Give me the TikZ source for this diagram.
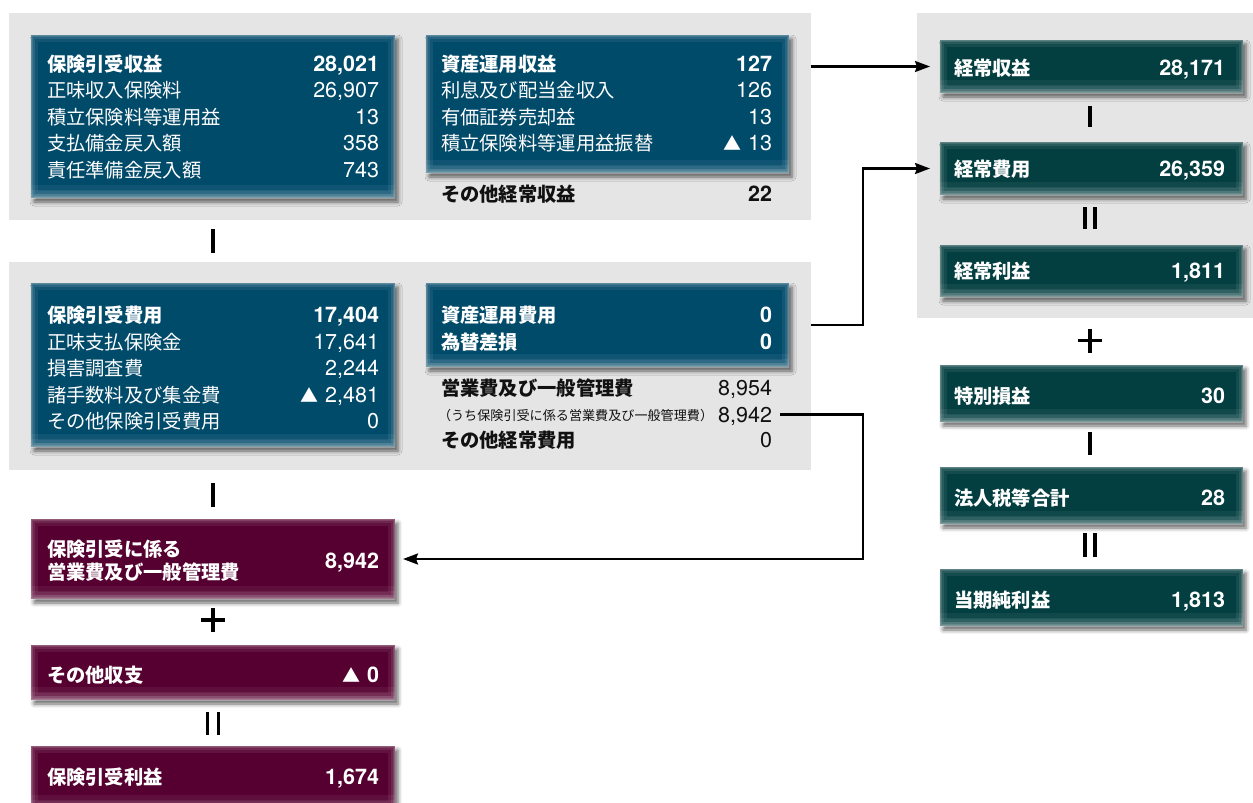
\documentclass[tikz,border=0pt]{standalone}
\usepackage{fontspec}
\setmainfont{TeX Gyre Heros}
\newfontfamily\cjk{Noto Sans CJK JP}
\usetikzlibrary{shadows.blur,arrows.meta,calc}
\definecolor{panelgray}{HTML}{E4E5E4}
\definecolor{bblue}{HTML}{004A6A}
\definecolor{bgreen}{HTML}{033E40}
\definecolor{bpurple}{HTML}{550030}
\definecolor{ink}{HTML}{111111}
\newcommand{\tri}{{\cjk\fontsize{18}{18}\selectfont ▲}\hspace{7pt}}
\tikzset{
  panel/.style={fill=panelgray, anchor=north west, inner sep=0pt, outer sep=0pt},
  card/.style={fill=#1, anchor=north west, inner sep=0pt, outer sep=0pt,
    blur shadow={shadow xshift=3pt, shadow yshift=-4pt, shadow blur radius=4pt, shadow opacity=60},
    path picture={
      \draw[white,opacity=0.07,line width=14pt] (path picture bounding box.south west) rectangle (path picture bounding box.north east);
      \draw[white,opacity=0.09,line width=8pt] (path picture bounding box.south west) rectangle (path picture bounding box.north east);
      \draw[white,opacity=0.12,line width=4pt] (path picture bounding box.south west) rectangle (path picture bounding box.north east);
      \draw[white,opacity=0.14,line width=1.5pt] (path picture bounding box.south west) rectangle (path picture bounding box.north east);
      \fill[white,opacity=0.06] (path picture bounding box.south west) rectangle ([yshift=13pt]path picture bounding box.south east);
      \fill[white,opacity=0.07] (path picture bounding box.south west) rectangle ([yshift=8pt]path picture bounding box.south east);
      \fill[white,opacity=0.08] (path picture bounding box.south west) rectangle ([yshift=4pt]path picture bounding box.south east);
    }},
  lab/.style={anchor=base west, inner sep=0pt, outer sep=0pt, text=white, font=\cjk\fontsize{19.3}{23.5}\selectfont},
  labb/.style={lab, font=\cjk\bfseries\fontsize{19.3}{23.5}\selectfont},
  num/.style={anchor=base east, inner sep=0pt, outer sep=0pt, text=white, font=\fontsize{21.5}{23}\selectfont},
  numb/.style={num, font=\bfseries\fontsize{21.5}{23}\selectfont},
  dark/.style={text=ink},
  small/.style={anchor=base west, inner sep=0pt, outer sep=0pt, text=ink, font=\cjk\fontsize{13.1}{14}\selectfont},
  opline/.style={line width=3.2pt, draw=black},
  conn/.style={line width=2.3pt, draw=black, -{Stealth[length=15pt,width=11pt,inset=2pt]}},
}
\begin{document}
\begin{tikzpicture}[x=1pt,y=-1pt]
\useasboundingbox (0,0) rectangle (1253,803);
% panels
\node[panel, minimum width=802pt, minimum height=207pt] (panelA) at (9,13) {};
\node[panel, minimum width=802pt, minimum height=208pt] (panelB) at (9,262) {};
\node[panel, minimum width=336pt, minimum height=305pt] (panelC) at (917,13) {};
% blue cards
\node[card=bblue, minimum width=364pt, minimum height=163pt] (bA1) at (31,35) {};
\node[card=bblue, minimum width=363pt, minimum height=138pt] (bA2) at (426,35) {};
\node[card=bblue, minimum width=364pt, minimum height=164pt] (bB1) at (31,283) {};
\node[card=bblue, minimum width=363pt, minimum height=84pt] (bB2) at (426,283) {};
% purple cards
\node[card=bpurple, minimum width=364pt, minimum height=80pt] (p1) at (31,519) {};
\node[card=bpurple, minimum width=364pt, minimum height=55pt] (p2) at (31,645) {};
\node[card=bpurple, minimum width=364pt, minimum height=62pt] (p3) at (31,746) {};
% green cards
\node[card=bgreen, minimum width=303pt, minimum height=53pt] (g1) at (940,40) {};
\node[card=bgreen, minimum width=303pt, minimum height=53pt] (g2) at (940,142) {};
\node[card=bgreen, minimum width=303pt, minimum height=52pt] (g3) at (940,245) {};
\node[card=bgreen, minimum width=303pt, minimum height=57pt] (g4) at (940,365) {};
\node[card=bgreen, minimum width=303pt, minimum height=57pt] (g5) at (940,467) {};
\node[card=bgreen, minimum width=303pt, minimum height=57pt] (g6) at (940,569) {};

% top-left card text
\node[labb] (a1l) at (47,71) {保険引受収益};
\node[numb] (a1n) at (379,71) {28,021};
\node[lab] (a2l) at (47,97.5) {正味収入保険料};
\node[num] (a2n) at (379,97.5) {26,907};
\node[lab] (a3l) at (47,124.1) {積立保険料等運用益};
\node[num] (a3n) at (379,124.1) {13};
\node[lab] (a4l) at (47,150.7) {支払備金戻入額};
\node[num] (a4n) at (379,150.7) {358};
\node[lab] (a5l) at (47,177.3) {責任準備金戻入額};
\node[num] (a5n) at (379,177.3) {743};
% top-right card text
\node[labb] (b1l) at (441,71) {資産運用収益};
\node[numb] (b1n) at (772,71) {127};
\node[lab] (b2l) at (441,97.5) {利息及び配当金収入};
\node[num] (b2n) at (772,97.5) {126};
\node[lab] (b3l) at (441,124.1) {有価証券売却益};
\node[num] (b3n) at (772,124.1) {13};
\node[lab] (b4l) at (441,150.7) {積立保険料等運用益振替};
\node[num] (b4n) at (772,150.7) {\tri 13};
\node[labb,dark] (b5l) at (441,201) {その他経常収益};
\node[numb,dark] (b5n) at (772,201) {22};

% middle-left card
\node[labb] (c1l) at (47,322.5) {保険引受費用};
\node[numb] (c1n) at (379,322.5) {17,404};
\node[lab] (c2l) at (47,349) {正味支払保険金};
\node[num] (c2n) at (379,349) {17,641};
\node[lab] (c3l) at (47,375.5) {損害調査費};
\node[num] (c3n) at (379,375.5) {2,244};
\node[lab] (c4l) at (47,402) {諸手数料及び集金費};
\node[num] (c4n) at (379,402) {\tri 2,481};
\node[lab] (c5l) at (47,428.5) {その他保険引受費用};
\node[num] (c5n) at (379,428.5) {0};
% middle-right card
\node[labb] (d1l) at (441,322.5) {資産運用費用};
\node[numb] (d1n) at (772,322.5) {0};
\node[labb] (d2l) at (441,349) {為替差損};
\node[numb] (d2n) at (772,349) {0};
\node[labb,dark] (d3l) at (441,395.5) {営業費及び一般管理費};
\node[num,dark] (d3n) at (772,395.5) {8,954};
\node[small] (d4l) at (438,420) {（うち保険引受に係る営業費及び一般管理費）};
\node[num,dark] (d4n) at (772,422.5) {8,942};
\node[labb,dark] (d5l) at (441,447.5) {その他経常費用};
\node[num,dark] (d5n) at (772,447.5) {0};

% purple
\node[labb, anchor=west, align=left] (e1l) at (47,560.75) {保険引受に係る\\営業費及び一般管理費};
\node[numb] (e1n) at (379,568) {8,942};
\node[labb] (e2l) at (47,682.5) {その他収支};
\node[numb] (e2n) at (379,682.5) {\tri 0};
\node[labb] (e3l) at (47,784) {保険引受利益};
\node[numb] (e3n) at (379,784) {1,674};

% green
\node[labb] (f1l) at (954,75) {経常収益};
\node[numb] (f1n) at (1225,75) {28,171};
\node[labb] (f2l) at (954,176.5) {経常費用};
\node[numb] (f2n) at (1225,176.5) {26,359};
\node[labb] (f3l) at (954,278.2) {経常利益};
\node[numb] (f3n) at (1225,278.2) {1,811};
\node[labb] (f4l) at (954,403.5) {特別損益};
\node[numb] (f4n) at (1225,403.5) {30};
\node[labb] (f5l) at (954,505.5) {法人税等合計};
\node[numb] (f5n) at (1225,505.5) {28};
\node[labb] (f6l) at (954,607) {当期純利益};
\node[numb] (f6n) at (1225,607) {1,813};

% operators
\draw[opline] (213,229) -- (213,253);
\draw[opline] (213,483) -- (213,507);
\draw[opline] (201,620) -- (225,620) (213,608) -- (213,632);
\draw[opline] (207.5,712) -- (207.5,735) (218.5,712) -- (218.5,735);
\draw[opline] (1090,106) -- (1090,127);
\draw[opline] (1085,207) -- (1085,229) (1095,207) -- (1095,229);
\draw[opline] (1078,340.5) -- (1102,340.5) (1090,328.5) -- (1090,352.5);
\draw[opline] (1090,432) -- (1090,455);
\draw[opline] (1085,533) -- (1085,557) (1095,533) -- (1095,557);

% connectors
\coordinate (bend) at (863,0);
\draw[conn] (panelA.east |- g1.west) -- ([xshift=-10pt]g1.west);
\draw[conn] (panelB.east |- bB2.east) -| (bend |- g2.west) -- ([xshift=-10pt]g2.west);
\draw[conn] ([xshift=8pt,yshift=8pt]d4n.base east) -| (bend |- p1.east) -- ([xshift=8pt]p1.east);
\end{tikzpicture}
\end{document}
